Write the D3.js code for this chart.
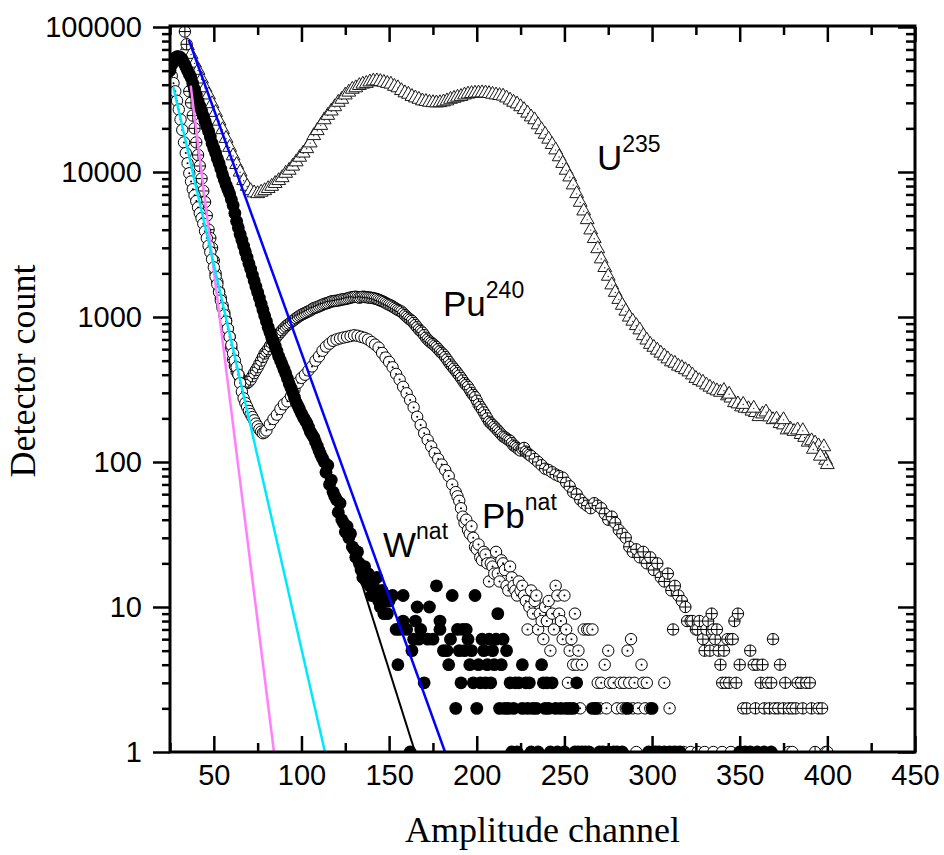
<!DOCTYPE html>
<html><head><meta charset="utf-8">
<script src="https://cdn.jsdelivr.net/npm/d3@7/dist/d3.min.js"></script>
<style>body{margin:0;background:#fff}svg{display:block}</style>
</head><body>
<svg id="chart" width="944" height="855"></svg>
<script>
// ---------------- data ----------------
const xTickValues = [50,100,150,200,250,300,350,400,450];
const xMinorTicks = [25,75,125,175,225,275,325,375,425];
const yTickValues = [1,10,100,1000,10000,100000];
const yTickLabels = ["1","10","100","1000","10000","100000"];

// U-235 (open triangles): channels 35..399 step 2, then a few scattered tail points
const uX = d3.range(35, 400, 2).concat([344,352,358,375,386,392,398,400,396]);
const uY = [75900,66100,57500,51300,44700,38900,34700,30200,26300,22900,
  20000,17400,15100,13200,11500,10200,8910,8130,7590,7330,
  7240,7410,7590,7850,8130,8510,8910,9330,10000,10500,
  11200,12000,12900,13800,14800,16200,18200,19700,21400,23400,
  25100,26900,28800,30900,32400,34700,36300,38000,38900,40300,
  41200,41700,42700,43300,43400,43000,42400,41700,41200,39800,
  38900,37200,35900,35100,33900,33100,32400,31600,31300,30900,
  30700,30600,30700,31100,31600,32400,32900,33500,33900,34700,
  35200,35500,35700,35800,35900,35800,35500,35100,34700,34400,
  34100,33100,32000,30900,30100,28800,27500,26000,24500,23400,
  21600,20000,18600,17200,15800,14500,13000,11700,10500,9440,
  8320,7240,6310,5500,4790,4070,3550,3020,2570,2240,
  1950,1700,1510,1350,1230,1120,1020,955,891,832,
  759,708,661,631,603,575,550,525,501,490,
  468,457,442,427,407,385,372,363,347,335,
  324,316,309,318,292,282,262,257,245,240,
  238,229,224,210,219,226,209,200,202,188,
  184,170,172,166,170,158,151,140,143,138,
  132,117,105,
  300,255,240,200,168,125,130,98,112];

// Pu-240 (circle with cross)
const puX = [33.5,34.5].concat(d3.range(36, 231, 1)).concat([231,233,235,237,239,241,243,245,247,249,251,253,255,257,259,261,263,265,267,269,271,273,275,277,279,281,283,285,287,289,291,293,295,297,299,301,303,305,307,309,311,312,313,315,317,319,320,322,323,325,326,327,329,330,331,332,333,334,335,336,337,338,339,340,341,342,343,344,345,346,347,348,349,350,352,354,356,358,359,360,362,363,364,366,367,368,369,370,372,373,375,376,378,380,382,383,385,386,388,390,391,393,395,397,399,400]);
const puY = [93000,76000,
  36000,30000,24500,20000,16000,13100,11000,9000,7400,6200,5000,4000,3500,3000,2450,2000,1750,1500,1350,1200,1070,950,830,730,610,510,460,420,400,380,365,355,350,350,
  358,370,390,410,430,450,475,500,530,560,580,600,630,660,685,710,735,760,785,810,835,860,880,900,920,940,960,980,1000,1020,
  1035,1050,1065,1080,1095,1110,1130,1150,1160,1170,1185,1200,1215,1230,1240,1250,1265,1280,1285,1290,1295,1300,1310,1320,1325,1330,1340,1350,1360,1370,
  1375,1380,1370,1360,1370,1380,1375,1370,1365,1360,1355,1350,1340,1330,1315,1300,1285,1270,1250,1230,1215,1200,1180,1160,1140,1120,1105,1090,1060,1030,
  1005,980,960,940,910,880,850,820,800,780,750,720,700,680,665,650,635,620,600,580,565,550,530,510,490,470,455,440,425,410,
  395,380,365,350,340,330,315,300,290,280,265,250,240,230,220,210,200,190,185,180,175,170,165,160,155,150,148,145,142,140,
  135,130,128,125,122,120,123,125,118,115,112,
  110,105,100,95,90,88,85,82,80,78,72,68,62,60,55,52,50,48,52,50,48,44,40,42,38,34,32,30,26,24,25,22,24,20,22,18,20,16,15,17,
  13,7,14,12,11,10,8,8,8,7,7,8,6,5,7,8,5,9,7,6,7,5,4,3,5,3,6,3,6,6,8,3,9,4,2,2,5,4,2,4,3,4,2,3,2,3,6,2,2,4,2,3,2,2,2,3,3,2,3,3,2,1,2,2,1,1];

// Pb-nat (circle with dot)
const pbX = d3.range(26, 81, 1).concat([82,84,86,88,90,92,94,96,98,100,102,104,106,108,110,112,114,116,118,120,122,124,126,128,130,132,134,136,138,140,142,144,146,148,150,152,154,156,158,160,162,164,166,168,170,172,174,176,178,180,182,184,186,188,189,190,191,192,193,194,195,196,197,198,199,200,201,202,203,204,205,206,207,208,209,210,211,212,213,214,215,216,217,218,219,220,221,222,223,224,225,226,227,228,229,230,231,232,233,234,235,236,237,238,239,240,241,242,243,244,245,246,247,248,249,250,251,252,253,254,255,256,257,258,259,260,261,263,264,266,268,269,270,271,273,274,275,276,278,280,282,283,284,285,286,287,288,289,290,291,292,294,295,296,297,299,301,304,307,310,312,315,318,322,326,330,335,340,345,378,380]);
const pbY = [46000,41000,36000,31000,27000,23000,19500,16000,13500,11500,9800,8600,7600,6900,6300,5700,5200,4800,4400,3900,
  3500,3100,2800,2500,2200,1900,1680,1480,1300,1150,1030,930,830,730,640,560,500,450,400,350,
  305,275,255,240,225,214,204,194,184,176,168,162,158,160,165,
  182,198,212,232,250,262,284,316,352,380,400,428,456,500,535,585,625,655,685,700,712,722,730,740,748,742,730,718,700,672,645,615,565,525,490,450,405,370,330,298,268,238,205,180,158,142,128,115,105,96,88,80,70,62,
  58,54,48,42,38,40,34,32,36,30,26,25,27,22,21,24,23,20,15,20,19,17,24,17,15,21,20,18,14,13,19,16,14,13,12,15,13,14,12,11,7,10,13,9,11,12,7,9,8,6,10,8,11,5,9,7,14,12,9,8,6,12,7,3,5,6,4,9,4,5,2,4,7,7,7,7,2,3,2,3,4,2,5,3,3,2,3,2,3,2,5,3,6,2,3,1,2,4,3,2,3,2,1,1,3,2,1,1,1,1,1,1,1,1,1,1,1];

// W-nat (filled circles)
const wX = d3.range(25, 114, 1).concat([114,115,116,117,118,119,120,121,122,123,124,125,126,127,128,129,130,131,132,133,134,135,136,137,138,139,140,141,142,143,144,145,146,147,148,149,150,152,154,155,156,158,158,160,162,163,164,165,166,167,168,170,172,173,175,177,179,179,181,183,184,185,186,188,189,190,191,192,193,194,195,196,197,198,199,200,201,202,203,204,205,206,207,208,209,210,211,212,213,214,215,216,217,218,219,220,221,222,223,224,226,226,228,229,230,231,232,234,235,237,238,239,240,241,242,243,245,246,248,250,251,253,255,256,257,258,260,262,264,266,268,270,272,275,278,280,283,286,298,300,302,304,307,310,313,316,350,353,356,360,364,368,372,376]);
const wY = [50100,55000,58900,61000,62400,62400,61700,59600,56200,53100,50100,47300,44700,40700,37200,33900,30900,28500,26300,24300,
  22400,20700,19100,17400,15800,14600,13500,12400,11500,10500,9550,8810,8130,7590,7080,6460,5890,5190,4570,4120,
  3720,3390,3090,2820,2570,2340,2140,1950,1780,1620,1480,1350,1230,1120,1020,933,851,785,724,676,
  631,582,537,501,468,437,407,376,347,324,302,279,257,243,229,216,204,195,186,174,162,155,148,138,129,120,112,106,100,
  85,95,70,75,62,58,55,45,52,40,38,33,36,30,32,26,25,22,24,20,18,16,19,15,17,14,12,14,12,16,11,10,13,9,12,9,11,12,7,4,7,12,8,7,1,5,6,8,10,6,7,3,6,10,6,14,8,7,5,5,4,6,12,2,7,5,3,7,5,7,6,4,5,3,12,2,4,3,6,5,3,4,6,3,5,4,6,9,2,4,6,2,5,2,3,1,2,3,1,3,4,2,3,2,3,1,2,2,1,4,3,2,3,2,1,3,2,1,2,1,2,2,2,1,3,1,1,1,1,2,2,1,1,1,1,1,1,2,1,2,1,1,1,1,1,1,1,1,1,1,1,1];

// exponential fit lines: [x0, y0, x1, y1]
const fitMagenta = [36.8, 39400, 84.3, 1];
const fitCyan    = [26.9, 38560, 113.4, 1];
const fitBlack   = [115, 80, 164.8, 1];
const fitBlue    = [35.7, 81700, 181.9, 1];

// ---------------- chart ----------------
const svg = d3.select("#chart");
const L = 170, R = 915, T = 27, B = 752;
const x = d3.scaleLinear().domain([25, 450]).range([L, R]);
const y = d3.scaleLog().domain([1, 100000]).range([B, T]);

svg.append("defs").append("clipPath").attr("id","clip")
  .append("rect").attr("x",L).attr("y",T-1).attr("width",R-L).attr("height",B-T+1);

const plot = svg.append("g").attr("clip-path","url(#clip)");

function pts(xs, ys){
  const n = Math.min(xs.length, ys.length);
  return d3.range(n).map(i=>({x:xs[i], y:ys[i]}));
}

// U-235 triangles
const gU = plot.append("g");
pts(uX,uY).forEach(d=>{
  const g = gU.append("g").attr("transform",`translate(${x(d.x)},${y(d.y)})`);
  g.append("path").attr("d","M0,-6.6L6.9,5.3L-6.9,5.3Z")
    .attr("fill","#fff").attr("stroke","#1a1a1a").attr("stroke-width",1);
  g.append("circle").attr("cy",1.5).attr("r",0.7).attr("fill","#222");
});

// Pu-240 circle-plus
const gPu = plot.append("g");
pts(puX,puY).forEach(d=>{
  const g = gPu.append("g").attr("transform",`translate(${x(d.x)},${y(d.y)})`);
  g.append("circle").attr("r",5.7).attr("fill","#fff").attr("stroke","#000").attr("stroke-width",1);
  g.append("path").attr("d","M-5.7,0H5.7M0,-5.7V5.7").attr("stroke","#000").attr("stroke-width",1);
});

// Pb-nat circle-dot
const gPb = plot.append("g");
pts(pbX,pbY).forEach(d=>{
  const g = gPb.append("g").attr("transform",`translate(${x(d.x)},${y(d.y)})`);
  g.append("circle").attr("r",5.7).attr("fill","#fff").attr("stroke","#000").attr("stroke-width",1);
  g.append("circle").attr("r",1).attr("fill","#000");
});

// W-nat filled
plot.append("g").selectAll("circle").data(pts(wX,wY)).join("circle")
  .attr("cx",d=>x(d.x)).attr("cy",d=>y(d.y)).attr("r",6.4).attr("fill","#000");

// fit lines
[[fitMagenta,"#ff80ff",2.5],[fitCyan,"#00e8ff",2.5],[fitBlack,"#000",2],[fitBlue,"#0000ff",2.5]].forEach(([f,c,w])=>{
  plot.append("line").attr("x1",x(f[0])).attr("y1",y(f[1])).attr("x2",x(f[2])).attr("y2",y(f[3]))
    .attr("stroke",c).attr("stroke-width",w);
});

// ---------------- axes ----------------
const tickFont = "'Liberation Sans', Arial, sans-serif";
function styleAxis(g){
  g.select(".domain").remove();
  g.selectAll("line").attr("stroke","#000").attr("stroke-width",2.5);
  g.selectAll("text").attr("font-family",tickFont).attr("font-size",29).attr("fill","#000");
}
const yMinor = [];
for (let e=0; e<5; e++) for (let m=2; m<=9; m++) yMinor.push(m*Math.pow(10,e));

// bottom
svg.append("g").attr("transform",`translate(0,${B})`)
  .call(d3.axisBottom(x).tickValues(xTickValues).tickSizeInner(-16).tickSizeOuter(0).tickPadding(12).tickFormat(d3.format("d")))
  .call(styleAxis);
svg.append("g").attr("transform",`translate(0,${B})`)
  .call(d3.axisBottom(x).tickValues(xMinorTicks).tickSizeInner(-9).tickSizeOuter(0).tickFormat(""))
  .call(styleAxis);
// top
svg.append("g").attr("transform",`translate(0,${T})`)
  .call(d3.axisTop(x).tickValues(xTickValues).tickSizeInner(-15).tickSizeOuter(0).tickFormat(""))
  .call(styleAxis);
svg.append("g").attr("transform",`translate(0,${T})`)
  .call(d3.axisTop(x).tickValues(xMinorTicks).tickSizeInner(-8).tickSizeOuter(0).tickFormat(""))
  .call(styleAxis);
// left
svg.append("g").attr("transform",`translate(${L},0)`)
  .call(d3.axisLeft(y).tickValues(yTickValues).tickSizeInner(17).tickSizeOuter(0).tickPadding(11)
    .tickFormat((d,i)=>yTickLabels[i]))
  .call(styleAxis);
svg.append("g").attr("transform",`translate(${L},0)`)
  .call(d3.axisLeft(y).tickValues(yMinor).tickSizeInner(8).tickSizeOuter(0).tickFormat(""))
  .call(styleAxis);
// right
svg.append("g").attr("transform",`translate(${R},0)`)
  .call(d3.axisRight(y).tickValues(yTickValues).tickSizeInner(-17).tickSizeOuter(0).tickFormat(""))
  .call(styleAxis);
svg.append("g").attr("transform",`translate(${R},0)`)
  .call(d3.axisRight(y).tickValues(yMinor).tickSizeInner(-9).tickSizeOuter(0).tickFormat(""))
  .call(styleAxis);

// frame
svg.append("rect").attr("x",L).attr("y",T-1).attr("width",R-L).attr("height",B-T+1)
  .attr("fill","none").attr("stroke","#000").attr("stroke-width",3);

// axis titles
svg.append("text").attr("x",(L+R)/2).attr("y",842).attr("text-anchor","middle")
  .attr("font-family","'Liberation Serif','Times New Roman',serif").attr("font-size",36)
  .text("Amplitude channel");
svg.append("text").attr("transform",`translate(35,371) rotate(-90)`).attr("text-anchor","middle")
  .attr("font-family","'Liberation Serif','Times New Roman',serif").attr("font-size",36)
  .text("Detector count");

// series labels
const labelFont = "'Liberation Sans', Arial, sans-serif";
function label(px, py, main, sup){
  const t = svg.append("text").attr("x",px).attr("y",py).attr("font-family",labelFont)
    .attr("font-size",35).attr("fill","#000");
  t.append("tspan").text(main);
  t.append("tspan").attr("font-size",23).attr("dy",-18).text(sup);
}
label(597, 170, "U", "235");
label(443, 316, "Pu", "240");
label(482, 528, "Pb", "nat");
label(383, 557, "W", "nat");
</script>
</body></html>
